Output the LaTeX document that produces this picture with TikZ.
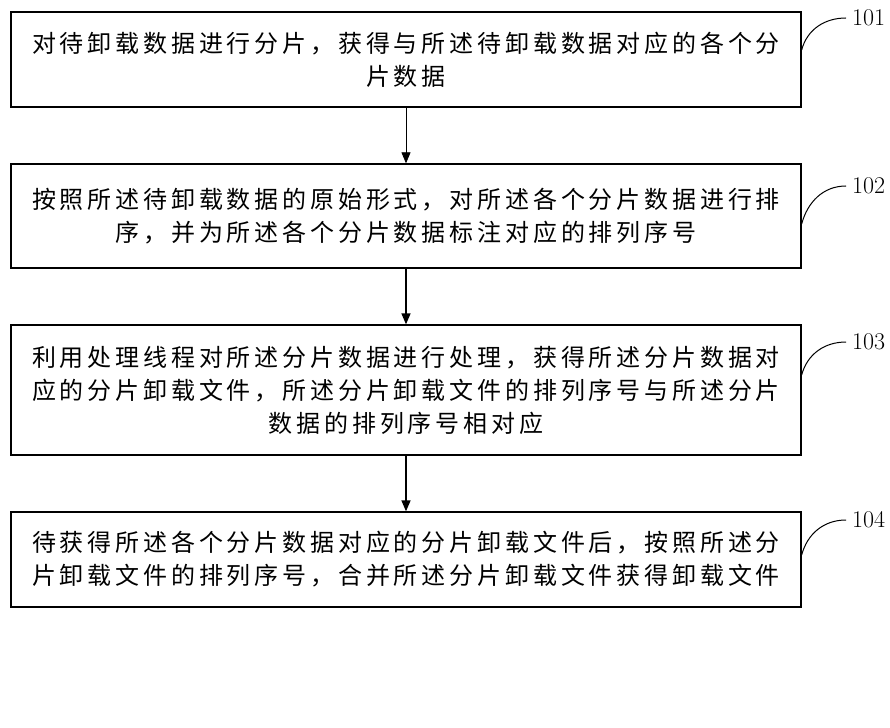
\documentclass[tikz,border=0pt]{standalone}
\usepackage{fontspec}
\newfontfamily\cjk{Noto Sans CJK SC}[LetterSpace=16]
\usetikzlibrary{arrows.meta}
\begin{document}
\begin{tikzpicture}[x=1pt,y=1pt,
  stepbox/.style={draw,line width=1.3pt,minimum width=790pt,inner sep=0pt,
    align=center,font=\cjk\fontsize{24}{33}\selectfont},
  tag/.style={anchor=west,inner sep=0pt,font=\fontsize{24}{24}\selectfont},
  flow/.style={-{Triangle[length=11pt,width=9pt]},line width=1.5pt}]
\useasboundingbox (0,0) rectangle (890,-727);
% the four steps
\node[stepbox,minimum height=95pt] (b1) at (406,-59.5)
  {对待卸载数据进行分片，获得与所述待卸载数据对应的各个分\\片数据};
\node[stepbox,minimum height=104pt] (b2) at (406,-216)
  {按照所述待卸载数据的原始形式，对所述各个分片数据进行排\\序，并为所述各个分片数据标注对应的排列序号};
\node[stepbox,minimum height=130pt] (b3) at (406,-390)
  {利用处理线程对所述分片数据进行处理，获得所述分片数据对\\应的分片卸载文件，所述分片卸载文件的排列序号与所述分片\\数据的排列序号相对应};
\node[stepbox,minimum height=95pt] (b4) at (406,-559.5)
  {待获得所述各个分片数据对应的分片卸载文件后，按照所述分\\片卸载文件的排列序号，合并所述分片卸载文件获得卸载文件};
% step numbers
\node[tag] (t101) at (852,-18) {101};
\node[tag] (t102) at (852,-186) {102};
\node[tag] (t103) at (852,-342) {103};
\node[tag] (t104) at (852,-520) {104};
% arrows
\draw[flow,line width=0.8pt] (b1) -- (b2);
\draw[flow] (b2) -- (b3);
\draw[flow] (b3) -- (b4);
% leaders
\draw[line width=1pt] ([yshift=9.5pt]b1.east) to[out=75,in=180] ([xshift=-6pt]t101.west);
\draw[line width=1pt] ([yshift=-8pt]b2.east) to[out=75,in=180] ([xshift=-6pt]t102.west);
\draw[line width=1pt] ([yshift=15pt]b3.east) to[out=75,in=180] ([xshift=-6pt]t103.west);
\draw[line width=1pt] ([yshift=4.5pt]b4.east) to[out=75,in=180] ([xshift=-6pt]t104.west);
\end{tikzpicture}
\end{document}
